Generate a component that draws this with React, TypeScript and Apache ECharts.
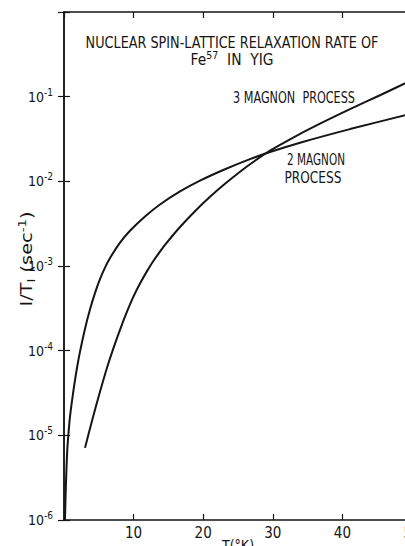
import React, { useEffect, useRef } from 'react';
import * as echarts from 'echarts';

// Temperature T (K) and relaxation rate 1/T1 (sec^-1)
const twoMagnonT = [0.14, 0.23, 0.35, 0.47, 0.65, 0.86, 1.15, 1.48, 1.87, 2.3, 3.02, 3.74, 4.45, 5.17, 5.89, 6.61, 8.05, 9.48, 11.64, 13.79, 16.67, 19.54, 23.13, 26.72, 29.6, 33.91, 41.09, 50];
const twoMagnonRate = [1.0e-6, 1.98e-6, 3.91e-6, 6.73e-6, 1.07e-5, 1.66e-5, 2.56e-5, 3.96e-5, 6.29e-5, 9.73e-5, 1.82e-4, 3.08e-4, 4.79e-4, 6.98e-4, 9.55e-4, 1.24e-3, 1.89e-3, 2.61e-3, 3.85e-3, 5.33e-3, 7.61e-3, 1.02e-2, 1.39e-2, 1.83e-2, 2.22e-2, 2.86e-2, 4.14e-2, 6.31e-2];

const threeMagnonT = [3.02, 4.02, 5.17, 6.18, 7.33, 8.19, 9.05, 9.91, 10.92, 11.93, 12.79, 13.79, 14.8, 16.67, 18.82, 20.98, 23.13, 25.29, 27.44, 29.6, 32.47, 36.35, 41.09, 45.4, 50];
const threeMagnonRate = [7.11e-6, 1.48e-5, 3.27e-5, 6.29e-5, 1.21e-4, 1.9e-4, 2.89e-4, 4.24e-4, 6.21e-4, 8.7e-4, 1.13e-3, 1.48e-3, 1.9e-3, 2.89e-3, 4.44e-3, 6.56e-3, 9.34e-3, 1.3e-2, 1.75e-2, 2.3e-2, 3.14e-2, 4.6e-2, 7.11e-2, 0.104, 0.157];

const xMin = 0;
const xMax = 50;
const xInterval = 10;
const yMin = 1e-6;
const yMax = 1;

const titleLine1 = 'NUCLEAR SPIN-LATTICE RELAXATION RATE OF';
const titleLine2Base = 'Fe';
const titleLine2Sup = '57';
const titleLine2Rest = '  IN  YIG';
const label3 = '3 MAGNON  PROCESS';
const label2a = '2 MAGNON';
const label2b = 'PROCESS';
const xName = 'T(°K)';

const INK = '#151515';
const FONT = "'DejaVu Sans', 'Liberation Sans', sans-serif";
const NARROW = "'Liberation Sans Narrow', 'DejaVu Sans Condensed', 'Liberation Sans', sans-serif";

function measure(text: string, size: number, family: string) {
  const c = document.createElement('canvas').getContext('2d')!;
  c.font = `${size}px ${family}`;
  return c.measureText(text).width;
}

function fitText(text: string, x: number, y: number, width: number, size: number) {
  const w = measure(text, size, FONT);
  return {
    type: 'text',
    x,
    y,
    scaleX: width / w,
    style: { text, fontSize: size, fontFamily: FONT, fill: INK, align: 'center', verticalAlign: 'middle' },
    z: 10,
  };
}

export default function App() {
  const ref = useRef<HTMLDivElement>(null);
  useEffect(() => {
    if (!ref.current) return;
    const chart = echarts.init(ref.current, undefined, { renderer: 'svg' });

    const twoData = twoMagnonT.map((t, i) => [t, twoMagnonRate[i]]);
    const threeData = threeMagnonT.map((t, i) => [t, threeMagnonRate[i]]);

    const fe2W = measure(titleLine2Base + titleLine2Rest, 16, FONT) + measure(titleLine2Sup, 11, FONT);
    const yTitleW =
      measure('I/T', 16, FONT) + measure('I', 11, FONT) + measure(' (sec', 16, FONT) + measure('-1', 11, FONT) + measure(')', 16, FONT);

    const axisLine = { show: true, lineStyle: { color: INK, width: 1.5 } };
    const axisTick = { show: true, inside: true, length: 6, lineStyle: { color: INK, width: 1.2 } };

    chart.setOption({
      animation: false,
      backgroundColor: '#ffffff',
      grid: { left: 64, right: -7, top: 12, bottom: 26, containLabel: false, outerBoundsMode: 'none' },
      xAxis: [
        {
          type: 'value',
          min: xMin,
          max: xMax,
          interval: xInterval,
          position: 'bottom',
          axisLine,
          axisTick,
          splitLine: { show: false },
          axisLabel: {
            formatter: (v: number) => (v === 0 ? '' : String(v)),
            fontSize: 15,
            fontFamily: NARROW,
            color: INK,
            margin: 5,
          },
          name: xName,
          nameLocation: 'middle',
          nameGap: 18,
          nameMoveOverlap: false,
          nameTextStyle: { fontSize: 14, fontFamily: NARROW, color: INK, verticalAlign: 'top' },
        },
        {
          type: 'value',
          min: xMin,
          max: xMax,
          interval: xInterval,
          position: 'top',
          axisLine,
          axisTick,
          splitLine: { show: false },
          axisLabel: { show: false },
        },
      ],
      yAxis: [
        {
          type: 'log',
          logBase: 10,
          min: yMin,
          max: yMax,
          splitNumber: 6,
          position: 'left',
          axisLine,
          axisTick,
          minorTick: { show: false },
          splitLine: { show: false },
          axisLabel: {
            margin: 11,
            color: INK,
            formatter: (v: number) => {
              const e = Math.round(Math.log10(v));
              if (e === 0) return '';
              return `{b|10}{s|${e}}`;
            },
            rich: {
              b: { fontSize: 14, fontFamily: NARROW, color: INK },
              s: { fontSize: 10, fontFamily: NARROW, color: INK, padding: [0, 0, 9, 0] },
            },
          },
        },
        {
          type: 'log',
          logBase: 10,
          min: yMin,
          max: yMax,
          splitNumber: 6,
          position: 'right',
          axisLine,
          axisTick,
          splitLine: { show: false },
          axisLabel: { show: false },
        },
      ],
      graphic: [
        fitText(titleLine1, 232, 42, 293, 16),
        {
          type: 'text',
          x: 232,
          y: 60,
          scaleX: 83 / fe2W,
          style: {
            text: `{b|${titleLine2Base}}{s|${titleLine2Sup}}{b|${titleLine2Rest}}`,
            align: 'center',
            verticalAlign: 'middle',
            rich: {
              b: { fontSize: 16, fontFamily: FONT, fill: INK },
              s: { fontSize: 11, fontFamily: FONT, fill: INK, padding: [0, 0, 10, 0] },
            },
          },
          z: 10,
        },
        fitText(label3, 294, 97, 122, 16),
        fitText(label2a, 316, 159, 58, 16),
        fitText(label2b, 313, 177, 57, 16),
        {
          type: 'text',
          x: 27,
          y: 259,
          rotation: Math.PI / 2,
          scaleX: 95 / yTitleW,
          style: {
            text: '{b|I/T}{d|I}{b| (sec}{s|-1}{b|)}',
            align: 'center',
            verticalAlign: 'middle',
            rich: {
              b: { fontSize: 16, fontFamily: FONT, fill: INK },
              d: { fontSize: 11, fontFamily: FONT, fill: INK, padding: [8, 0, 0, 0] },
              s: { fontSize: 11, fontFamily: FONT, fill: INK, padding: [0, 0, 10, 0] },
            },
          },
          z: 10,
        },
      ],
      series: [
        {
          name: '2 magnon process',
          type: 'line',
          data: twoData,
          xAxisIndex: 0,
          yAxisIndex: 0,
          showSymbol: false,
          smooth: 0.25,
          lineStyle: { color: INK, width: 2 },
          clip: true,
        },
        {
          name: '3 magnon process',
          type: 'line',
          data: threeData,
          xAxisIndex: 0,
          yAxisIndex: 0,
          showSymbol: false,
          smooth: 0.25,
          lineStyle: { color: INK, width: 2 },
          clip: true,
        },
      ],
    });
    return () => chart.dispose();
  }, []);
  return <div ref={ref} style={{ position: 'fixed', left: 0, top: 0, width: 405, height: 546 }} />;
}
